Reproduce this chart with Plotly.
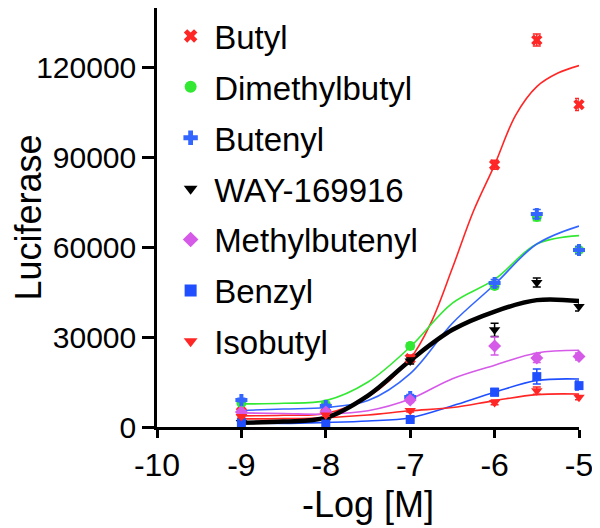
import plotly.graph_objects as go

# ---- data ----
dose = [-9, -8, -7, -6, -5.5, -5]
series_names = ["Butyl", "Dimethylbutyl", "Butenyl", "WAY-169916", "Methylbutenyl", "Benzyl", "Isobutyl"]

butyl = [5000, 6500, 22800, 87400, 129000, 107500]
butyl_err = [800, 800, 1200, 1500, 2000, 2000]
dimethylbutyl = [8000, 7500, 27000, 47000, 70000, 59000]
dimethylbutyl_err = [600, 600, 1000, 1000, 1200, 1200]
butenyl = [9000, 7000, 10000, 48000, 71000, 59000]
butenyl_err = [600, 600, 800, 1200, 1500, 1200]
way = [1500, 2000, 22000, 32400, 48200, 40200]
way_err = [400, 400, 1000, 2200, 1500, 1500]
methylbutenyl = [5000, 5000, 9000, 27000, 23000, 23500]
methylbutenyl_err = [500, 500, 800, 3000, 1500, 1200]
benzyl = [1500, 1000, 2500, 11600, 16800, 13800]
benzyl_err = [400, 400, 500, 1200, 2500, 1500]
isobutyl = [3500, 4000, 5500, 8200, 12100, 9900]
isobutyl_err = [400, 400, 500, 800, 1200, 800]

# fitted curves
curve_x = [-9, -8.5, -8, -7.5, -7, -6.5, -6, -5.5, -5]
butyl_curve_x = [-9, -8.5, -8, -7.5, -7, -6.75, -6.5, -6.25, -6, -5.75, -5.5, -5.25, -5]
butyl_curve = [3700, 3900, 4500, 10000, 22800, 35000, 53000, 72000, 87400, 104000, 113500, 118000, 120500]
dimethylbutyl_curve = [7700, 7900, 8800, 15000, 26700, 41300, 49200, 61000, 63800]
butenyl_curve = [5500, 6000, 6500, 8800, 17800, 34600, 47500, 61000, 67000]
way_curve = [1400, 1800, 3100, 10500, 22200, 32400, 38500, 42300, 42000]
methylbutenyl_curve = [4700, 4500, 4300, 5400, 9300, 16100, 20600, 24700, 25600]
benzyl_curve = [1400, 1200, 1500, 2000, 3100, 7100, 11600, 15500, 16000]
isobutyl_curve = [2700, 2800, 3100, 4000, 5400, 6500, 8800, 10800, 11000]

x_tick_vals = [-10, -9, -8, -7, -6, -5]
x_tick_text = ["-10", "-9", "-8", "-7", "-6", "-5"]
y_tick_vals = [0, 30000, 60000, 90000, 120000]

# ---- styles ----
RED = "#ff2626"
GREEN = "#33e833"
BLUE = "#3366ff"
BLUE2 = "#1f4fff"
MAG = "#d65ae8"
BLACK = "#000000"

FONT = "Liberation Sans, Arial, Helvetica, sans-serif"

fig = go.Figure()

curves = [
    (butyl_curve_x, butyl_curve, RED, 1.6),
    (curve_x, dimethylbutyl_curve, GREEN, 1.6),
    (curve_x, butenyl_curve, BLUE, 1.6),
    (curve_x, methylbutenyl_curve, MAG, 1.6),
    (curve_x, benzyl_curve, BLUE2, 1.6),
    (curve_x, isobutyl_curve, RED, 1.6),
    (curve_x, way_curve, BLACK, 4.5),
]
for cx, cy, col, w in curves:
    fig.add_trace(go.Scatter(x=cx, y=cy, mode="lines", line=dict(color=col, width=w, shape="spline", smoothing=1.0),
                             showlegend=False, hoverinfo="skip", cliponaxis=False))

points = [
    ("Butyl", butyl, butyl_err, RED, "x", 10),
    ("Dimethylbutyl", dimethylbutyl, dimethylbutyl_err, GREEN, "circle", 10),
    ("Butenyl", butenyl, butenyl_err, BLUE, "cross", 10),
    ("WAY-169916", way, way_err, BLACK, "triangle-down", 10),
    ("Methylbutenyl", methylbutenyl, methylbutenyl_err, MAG, "diamond", 10),
    ("Benzyl", benzyl, benzyl_err, BLUE2, "square", 9),
    ("Isobutyl", isobutyl, isobutyl_err, RED, "triangle-down", 10),
]
for i, (name, ys, es, col, sym, sz) in enumerate(points):
    fig.add_trace(go.Scatter(x=dose, y=ys, mode="markers", name=name,
                             marker=dict(color=col, symbol=sym, size=sz, line=dict(width=0)),
                             error_y=dict(type="data", array=es, visible=True, color=col, thickness=1.5, width=4),
                             legendgroup="g%d" % i, cliponaxis=False))

fig.update_layout(
    width=592, height=520,
    margin=dict(l=149, r=21, t=0, b=101, autoexpand=False),
    paper_bgcolor="white", plot_bgcolor="white",
    font=dict(family=FONT, color="black"),
    showlegend=True,
    legend=dict(x=0.024, y=1.0, xanchor="left", yanchor="top", bgcolor="rgba(0,0,0,0)",
                font=dict(family=FONT, size=33, color="black"), tracegroupgap=5,
                itemsizing="constant", itemwidth=37),
    xaxis=dict(range=[-10, -5], tickvals=x_tick_vals, ticktext=x_tick_text, automargin=False,
               showgrid=False, zeroline=False, showline=True, linecolor="black", linewidth=2.5,
               ticks="outside", ticklen=8, tickwidth=2.5, tickcolor="black",
               tickfont=dict(family=FONT, size=32, color="black"),
               title=dict(text="-Log [M]", font=dict(family=FONT, size=36, color="black"), standoff=10)),
    yaxis=dict(range=[0, 139700], tickvals=y_tick_vals, tickformat="d", automargin=False,
               showgrid=False, zeroline=False, showline=True, linecolor="black", linewidth=2.5,
               ticks="outside", ticklen=12, tickwidth=2.5, tickcolor="black",
               tickfont=dict(family=FONT, size=30, color="black"),
               title=dict(text="Luciferase", font=dict(family=FONT, size=36, color="black"), standoff=6)),
)

fig.write_html("out.html")
